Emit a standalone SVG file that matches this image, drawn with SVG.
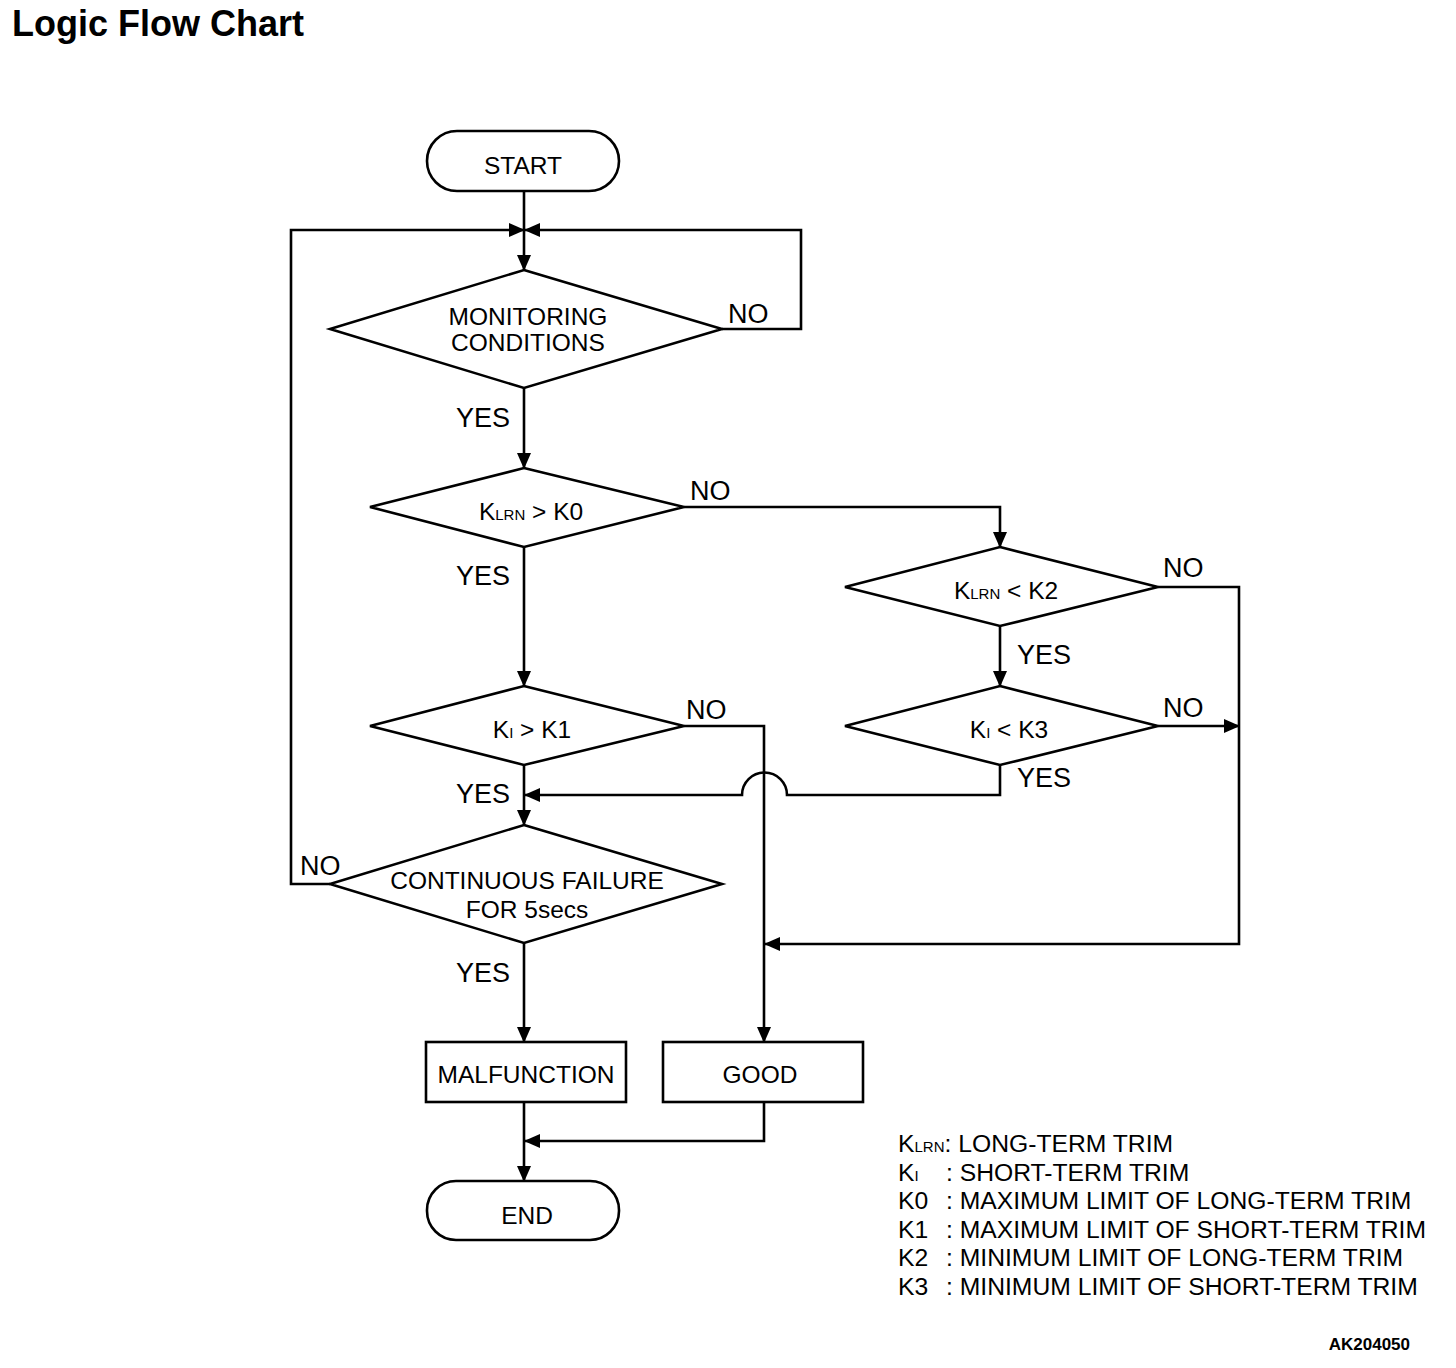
<svg xmlns="http://www.w3.org/2000/svg" width="1456" height="1368" viewBox="0 0 1456 1368">
<style>
.s{fill:none;stroke:#000;stroke-width:2.6}
.n{fill:#fff;stroke:#000;stroke-width:2.6}
text{font-family:"Liberation Sans",Arial,sans-serif;fill:#000}
.t{font-size:24.5px;text-anchor:middle}
.l{font-size:27px}
.g{font-size:24.7px}
</style>
<defs>
<marker id="a" markerUnits="userSpaceOnUse" markerWidth="16" markerHeight="14" refX="15" refY="7" orient="auto">
<path d="M0,0 L16,7 L0,14 Z" fill="#000"/>
</marker>
</defs>
<rect width="1456" height="1368" fill="#fff"/>
<text x="12" y="36" font-size="36" font-weight="bold">Logic Flow Chart</text>

<g id="connectors">
<path class="s" d="M524,191 V270" marker-end="url(#a)"/>
<path class="s" d="M330,884 H291 V230 H524" marker-end="url(#a)"/>
<path class="s" d="M722,329 H801 V230 H525" marker-end="url(#a)"/>
<path class="s" d="M524,388 V468" marker-end="url(#a)"/>
<path class="s" d="M684,507 H1000 V547" marker-end="url(#a)"/>
<path class="s" d="M1000,626 V686" marker-end="url(#a)"/>
<path class="s" d="M1158,587 H1239 V944 H765" marker-end="url(#a)"/>
<path class="s" d="M1158,726 H1239" marker-end="url(#a)"/>
<path class="s" d="M1000,765 V795 H787 A22.5,22.5 0 0 0 742,795 H525" marker-end="url(#a)"/>
<path class="s" d="M524,547 V686" marker-end="url(#a)"/>
<path class="s" d="M684,726 H764 V1042" marker-end="url(#a)"/>
<path class="s" d="M524,765 V825" marker-end="url(#a)"/>
<path class="s" d="M524,943 V1042" marker-end="url(#a)"/>
<path class="s" d="M764,1102 V1141 H525" marker-end="url(#a)"/>
<path class="s" d="M524,1102 V1181" marker-end="url(#a)"/>
</g>

<g id="labels">
<text class="l" x="728" y="323">NO</text>
<text class="l" x="456" y="427">YES</text>
<text class="l" x="690" y="500">NO</text>
<text class="l" x="456" y="585">YES</text>
<text class="l" x="1163" y="577">NO</text>
<text class="l" x="1017" y="664">YES</text>
<text class="l" x="1163" y="717">NO</text>
<text class="l" x="686" y="719">NO</text>
<text class="l" x="1017" y="787">YES</text>
<text class="l" x="456" y="803">YES</text>
<text class="l" x="300" y="875">NO</text>
<text class="l" x="456" y="982">YES</text>
</g>

<g id="start">
<rect class="n" x="427" y="131" width="192" height="60" rx="30"/>
<text class="t" x="523" y="174">START</text>
</g>
<g id="monitoring">
<polygon class="n" points="524,270 722,329 524,388 330,329"/>
<text class="t" x="528" y="325" font-size="23.5">MONITORING</text>
<text class="t" x="528" y="351" font-size="23.5">CONDITIONS</text>
</g>
<g id="klrn-k0">
<polygon class="n" points="524,468 684,507 524,547 370,507"/>
<text class="t" x="531" y="520">K<tspan font-size="15">LRN</tspan> &gt; K0</text>
</g>
<g id="klrn-k2">
<polygon class="n" points="1000,547 1158,587 1000,626 845,587"/>
<text class="t" x="1006" y="599">K<tspan font-size="15">LRN</tspan> &lt; K2</text>
</g>
<g id="ki-k3">
<polygon class="n" points="1000,686 1158,726 1000,765 845,726"/>
<text class="t" x="1009" y="738">K<tspan font-size="15">I</tspan> &lt; K3</text>
</g>
<g id="ki-k1">
<polygon class="n" points="524,686 684,726 524,765 370,726"/>
<text class="t" x="532" y="738">K<tspan font-size="15">I</tspan> &gt; K1</text>
</g>
<g id="continuous">
<polygon class="n" points="524,825 722,884 524,943 330,884"/>
<text class="t" x="527" y="889">CONTINUOUS FAILURE</text>
<text class="t" x="527" y="918">FOR 5secs</text>
</g>
<g id="malfunction">
<rect class="n" x="426" y="1042" width="200" height="60"/>
<text class="t" x="526" y="1083">MALFUNCTION</text>
</g>
<g id="good">
<rect class="n" x="663" y="1042" width="200" height="60"/>
<text class="t" x="760" y="1083">GOOD</text>
</g>
<g id="end">
<rect class="n" x="427" y="1181" width="192" height="59" rx="29"/>
<text class="t" x="527" y="1224">END</text>
</g>

<g id="legend">
<text class="g" x="898" y="1152">K<tspan font-size="15">LRN</tspan>: LONG-TERM TRIM</text>
<text class="g" x="898" y="1181">K<tspan font-size="15">I</tspan></text>
<text class="g" x="898" y="1209">K0</text>
<text class="g" x="898" y="1238">K1</text>
<text class="g" x="898" y="1266">K2</text>
<text class="g" x="898" y="1295">K3</text>
<text class="g" x="946" y="1181">: SHORT-TERM TRIM</text>
<text class="g" x="946" y="1209">: MAXIMUM LIMIT OF LONG-TERM TRIM</text>
<text class="g" x="946" y="1238">: MAXIMUM LIMIT OF SHORT-TERM TRIM</text>
<text class="g" x="946" y="1266">: MINIMUM LIMIT OF LONG-TERM TRIM</text>
<text class="g" x="946" y="1295">: MINIMUM LIMIT OF SHORT-TERM TRIM</text>
<text x="1410" y="1350" font-size="17" font-weight="bold" text-anchor="end">AK204050</text>
</g>
</svg>
